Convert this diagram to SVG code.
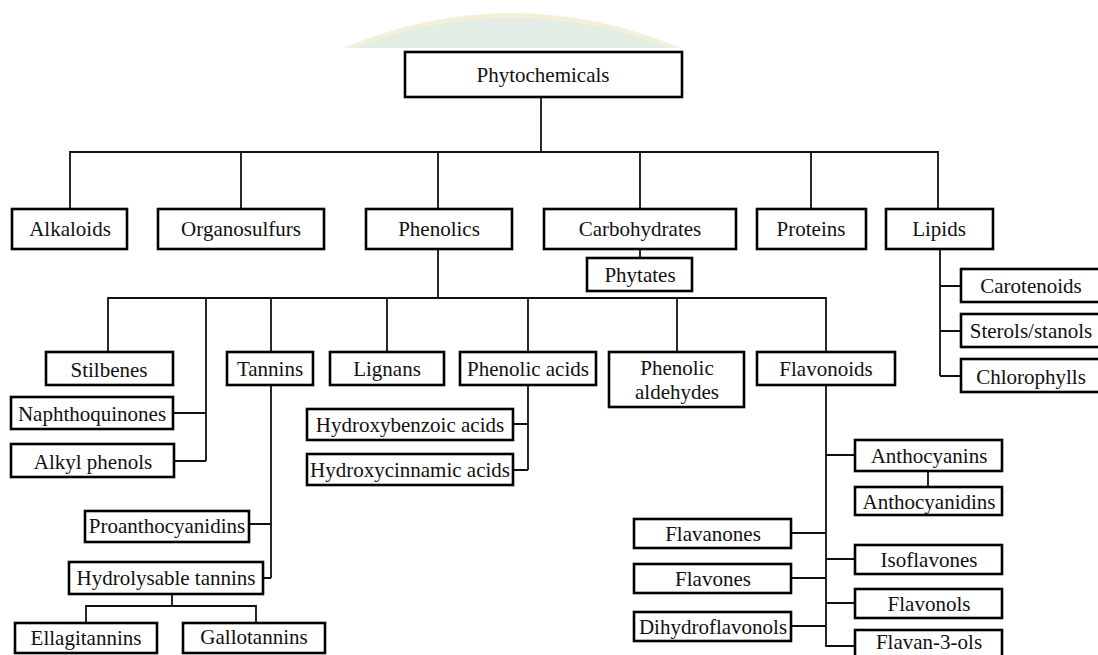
<svg xmlns="http://www.w3.org/2000/svg" width="1098" height="655" viewBox="0 0 1098 655">
<style>
.box{fill:#fff;stroke:#000;stroke-width:2.6}
.t{font-family:"Liberation Serif","Times New Roman",serif;font-size:21px;fill:#111;text-anchor:middle}
.c{fill:none;stroke:#111;stroke-width:1.8}
</style>
<rect width="1098" height="655" fill="#fff"/>
<g id="watermark">
<path d="M343,48 Q512,-22 681,48 Z" fill="#f4efd9"/>
<path d="M353,48 Q512,-12 671,48 Z" fill="#e2eee5"/>
</g>
<g id="connectors">
<path class="c" d="M541,98 V152 M70,209 V152 H938 V209 M241,152 V209 M438,152 V209 M640,152 V209 M811,152 V209"/>
<path class="c" d="M640,249 V258"/>
<path class="c" d="M940,249 V376 M940,286 H961 M940,331 H961 M940,376 H961"/>
<path class="c" d="M438,249 V298 M108,352 V298 H826 V352 M206,298 V461 M172,413 H206 M174,461 H206"/>
<path class="c" d="M271,298 V352 M271,385 V578 M249,524 H271 M263,578 H271"/>
<path class="c" d="M172,594 V606 M86,623 V606 H256 V623"/>
<path class="c" d="M387,298 V352 M528,298 V352 M677,298 V352"/>
<path class="c" d="M528,385 V470 M513,424 H528 M513,470 H528"/>
<path class="c" d="M826,385 V646 H855 M826,455 H855 M928,471 V487 M791,533 H826 M826,559 H855 M791,578 H826 M826,603 H855 M791,626 H826"/>
</g>
<g id="phytochemicals"><rect class="box" x="405" y="52" width="277" height="45"/><text class="t" x="543" y="82">Phytochemicals</text></g>
<g id="alkaloids"><rect class="box" x="12" y="209" width="115" height="40"/><text class="t" x="70" y="236">Alkaloids</text></g>
<g id="organosulfurs"><rect class="box" x="158" y="209" width="166" height="40"/><text class="t" x="241" y="236">Organosulfurs</text></g>
<g id="phenolics"><rect class="box" x="366" y="209" width="146" height="40"/><text class="t" x="439" y="236">Phenolics</text></g>
<g id="carbohydrates"><rect class="box" x="544" y="209" width="192" height="40"/><text class="t" x="640" y="236">Carbohydrates</text></g>
<g id="proteins"><rect class="box" x="757" y="209" width="109" height="40"/><text class="t" x="811" y="236">Proteins</text></g>
<g id="lipids"><rect class="box" x="886" y="209" width="107" height="40"/><text class="t" x="939" y="236">Lipids</text></g>
<g id="phytates"><rect class="box" x="587" y="258" width="105" height="33"/><text class="t" x="640" y="282">Phytates</text></g>
<g id="carotenoids"><rect class="box" x="961" y="269" width="140" height="33"/><text class="t" x="1031" y="293">Carotenoids</text></g>
<g id="sterols"><rect class="box" x="961" y="314" width="140" height="33"/><text class="t" x="1031" y="338">Sterols/stanols</text></g>
<g id="chlorophylls"><rect class="box" x="961" y="359" width="140" height="33"/><text class="t" x="1031" y="384">Chlorophylls</text></g>
<g id="stilbenes"><rect class="box" x="46" y="352" width="127" height="33"/><text class="t" x="109" y="377">Stilbenes</text></g>
<g id="naphthoquinones"><rect class="box" x="11" y="397" width="162" height="32"/><text class="t" x="92" y="421">Naphthoquinones</text></g>
<g id="alkylphenols"><rect class="box" x="11" y="444" width="163" height="33"/><text class="t" x="93" y="469">Alkyl phenols</text></g>
<g id="tannins"><rect class="box" x="227" y="352" width="86" height="33"/><text class="t" x="270" y="376">Tannins</text></g>
<g id="lignans"><rect class="box" x="330" y="352" width="114" height="33"/><text class="t" x="387" y="376">Lignans</text></g>
<g id="phenolicacids"><rect class="box" x="460" y="352" width="136" height="33"/><text class="t" x="528" y="376">Phenolic acids</text></g>
<g id="phenolicaldehydes"><rect class="box" x="609" y="352" width="135" height="55"/><text class="t" x="677" y="375">Phenolic</text><text class="t" x="677" y="399">aldehydes</text></g>
<g id="flavonoids"><rect class="box" x="757" y="352" width="138" height="33"/><text class="t" x="826" y="376">Flavonoids</text></g>
<g id="hydroxybenzoic"><rect class="box" x="307" y="409" width="206" height="31"/><text class="t" x="410" y="432">Hydroxybenzoic acids</text></g>
<g id="hydroxycinnamic"><rect class="box" x="307" y="454" width="206" height="31"/><text class="t" x="410" y="477">Hydroxycinnamic acids</text></g>
<g id="proanthocyanidins"><rect class="box" x="85" y="511" width="164" height="31"/><text class="t" x="167" y="533">Proanthocyanidins</text></g>
<g id="hydrolysable"><rect class="box" x="69" y="562" width="194" height="32"/><text class="t" x="166" y="585">Hydrolysable tannins</text></g>
<g id="ellagitannins"><rect class="box" x="15" y="623" width="142" height="30"/><text class="t" x="86" y="645">Ellagitannins</text></g>
<g id="gallotannins"><rect class="box" x="183" y="623" width="142" height="30"/><text class="t" x="254" y="644">Gallotannins</text></g>
<g id="anthocyanins"><rect class="box" x="855" y="440" width="147" height="31"/><text class="t" x="929" y="463">Anthocyanins</text></g>
<g id="anthocyanidins"><rect class="box" x="855" y="487" width="147" height="28"/><text class="t" x="929" y="509">Anthocyanidins</text></g>
<g id="flavanones"><rect class="box" x="634" y="519" width="157" height="29"/><text class="t" x="713" y="541">Flavanones</text></g>
<g id="isoflavones"><rect class="box" x="855" y="545" width="147" height="29"/><text class="t" x="929" y="567">Isoflavones</text></g>
<g id="flavones"><rect class="box" x="634" y="564" width="157" height="29"/><text class="t" x="713" y="586">Flavones</text></g>
<g id="flavonols"><rect class="box" x="855" y="589" width="147" height="29"/><text class="t" x="929" y="611">Flavonols</text></g>
<g id="dihydroflavonols"><rect class="box" x="634" y="612" width="157" height="29"/><text class="t" x="713" y="634">Dihydroflavonols</text></g>
<g id="flavan3ols"><rect class="box" x="855" y="630" width="147" height="32"/><text class="t" x="929" y="649">Flavan-3-ols</text></g>
</svg>
